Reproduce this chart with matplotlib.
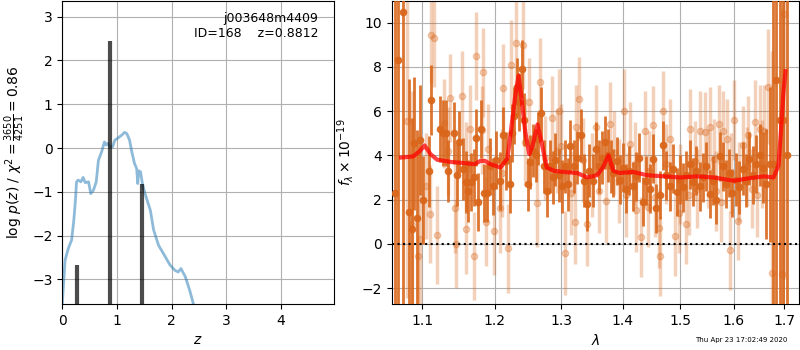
import matplotlib
matplotlib.use('Agg')
import matplotlib.pyplot as plt
from matplotlib.ticker import FormatStrFormatter, NullLocator

# p(z) curve
z_grid = [0.0, 0.05, 0.11, 0.17, 0.21, 0.24, 0.26, 0.29, 0.34, 0.38, 0.42, 0.48,
          0.52, 0.57, 0.62, 0.66, 0.72, 0.77, 0.80, 0.83, 0.87, 0.92, 0.96, 1.03,
          1.09, 1.14, 1.18, 1.23, 1.27, 1.32, 1.36, 1.38, 1.40, 1.43, 1.47, 1.54,
          1.61, 1.67, 1.76, 1.85, 1.97, 2.06, 2.12, 2.17, 2.25, 2.33, 2.40, 2.50, 2.60]
log_pz = [-3.55, -2.56, -2.29, -2.10, -1.65, -1.19, -0.77, -0.73, -0.77, -0.67, -0.79, -0.77,
          -1.04, -0.96, -0.77, -0.28, -0.08, 0.14, 0.07, 0.11, 0.03, 0.03, 0.18, 0.24,
          0.30, 0.36, 0.33, 0.18, -0.08, -0.35, -0.47, -0.81, -0.52, -0.54, -0.85, -1.15,
          -1.42, -1.87, -2.22, -2.41, -2.67, -2.79, -2.83, -2.75, -2.94, -3.25, -3.57, -4.2, -5.0]

# peaks
z_peaks = [0.275, 0.867, 1.455]
peak_height = [-2.67, 2.44, -0.82]

# spectrum, first set (dark)
wave_a = [1.0644, 1.0680, 1.0747, 1.0822, 1.0867, 1.0893, 1.0933, 1.0969, 1.1014, 1.1083,
          1.1120, 1.1236, 1.1278, 1.1315, 1.1347, 1.1430, 1.1468, 1.1500, 1.1546, 1.1593,
          1.1616, 1.1662, 1.1699, 1.1731, 1.1769, 1.1801, 1.1847, 1.1894, 1.1931, 1.1977,
          1.2020, 1.2075, 1.2125, 1.2170, 1.2220, 1.2260, 1.2285, 1.2320, 1.2360, 1.2395,
          1.2435, 1.2485, 1.2525, 1.2570, 1.2610, 1.2645, 1.2685, 1.2735, 1.2775, 1.2820,
          1.2870, 1.2910, 1.2960, 1.3010, 1.3053, 1.3102, 1.3144, 1.3198, 1.3251, 1.3305,
          1.3358, 1.3401, 1.3449, 1.3503, 1.3556, 1.3599, 1.3652, 1.3695, 1.3749, 1.3797,
          1.3840, 1.3893, 1.3947, 1.4000, 1.4059, 1.4106, 1.4165, 1.4224, 1.4282, 1.4341,
          1.4400, 1.4459, 1.4518, 1.4576, 1.4635, 1.4688, 1.4753, 1.4812, 1.4871, 1.4941,
          1.4988, 1.5049, 1.5110, 1.5172, 1.5233, 1.5294, 1.5356, 1.5417, 1.5479, 1.5540,
          1.5601, 1.5663, 1.5724, 1.5785, 1.5847, 1.5908, 1.5969, 1.6033, 1.6100, 1.6167,
          1.6233, 1.6300, 1.6367, 1.6433, 1.6500, 1.6567, 1.6633, 1.6700, 1.6767, 1.6833,
          1.6900, 1.6980, 1.7060]
flux_a = [2.3, 8.3, 10.5, 1.45, 0.68, 4.55, 1.15, 4.7, 1.97, 3.27,
          6.5, 5.2, 5.0, 5.0, 3.3, 5.0, 3.1, 4.6, 3.4, 2.8,
          2.4, 2.8, 3.0, 4.8, 1.9, 5.2, 2.3, 2.3, 3.5, 2.6,
          3.8, 2.85, 4.9, 3.75, 2.7, 5.0, 5.8, 7.1, 6.4, 7.9,
          5.6, 2.7, 3.7, 4.2, 4.0, 4.75, 5.9, 3.5, 2.4, 3.5,
          3.0, 3.8, 3.1, 2.6, 3.5, 2.7, 4.4, 3.5, 3.9, 4.9,
          2.85, 1.8, 3.3, 2.85, 4.3, 3.5, 3.9, 4.6, 4.0, 3.5,
          3.2, 3.75, 2.9, 3.45, 2.5, 3.3, 2.6, 3.05, 3.9, 1.9,
          2.85, 2.5, 3.85, 1.6, 2.2, 4.45, 3.1, 2.6, 3.4, 2.35,
          2.9, 2.55, 3.1, 3.6, 2.8, 3.3, 2.6, 3.0, 3.5, 2.25,
          2.85, 2.0, 3.95, 3.5, 2.7, 3.2, 2.3, 2.9, 2.55, 3.4,
          2.85, 3.85, 3.1, 3.6, 4.0, 3.45, 2.7, 3.6, 3.6, 7.4,
          5.6, 5.6, 4.0]
err_a = [15, 15, 15, 6.0, 5.0, 3.0, 4.0, 2.5, 2.0, 1.6,
         1.6, 1.5, 1.5, 1.5, 1.4, 1.4, 1.4, 1.4, 1.4, 1.4,
         1.4, 1.3, 1.3, 1.3, 1.3, 1.3, 1.3, 1.3, 1.3, 1.3,
         1.3, 1.3, 1.3, 1.3, 1.3, 1.3, 1.3, 1.3, 1.3, 1.3,
         1.2, 1.2, 1.2, 1.2, 1.2, 1.2, 1.2, 1.2, 1.2, 1.2,
         1.2, 1.2, 1.2, 1.2, 1.2, 1.2, 1.2, 1.2, 1.2, 1.2,
         1.2, 1.2, 1.2, 1.2, 1.2, 1.2, 1.2, 1.2, 1.2, 1.2,
         1.1, 1.1, 1.1, 1.1, 1.1, 1.1, 1.1, 1.1, 1.1, 1.1,
         1.1, 1.1, 1.1, 1.1, 1.1, 1.1, 1.1, 1.1, 1.1, 1.1,
         1.1, 1.1, 1.1, 1.1, 1.1, 1.1, 1.1, 1.1, 1.1, 1.1,
         1.1, 1.1, 1.1, 1.1, 1.1, 1.1, 1.1, 1.2, 1.2, 1.2,
         1.2, 1.2, 1.3, 1.3, 1.4, 1.6, 2.5, 3.5, 15, 15,
         15, 15, 15]

# spectrum, second set (light)
wave_b = [1.0805, 1.0862, 1.0938, 1.0969, 1.1050, 1.1097, 1.1120, 1.1162, 1.1190, 1.1292,
          1.1350, 1.1375, 1.1440, 1.1454, 1.1532, 1.1593, 1.1600, 1.1653, 1.1708, 1.1731,
          1.1824, 1.1838, 1.1870, 1.1900, 1.1995, 1.2075, 1.2100, 1.2125, 1.2195, 1.2235,
          1.2310, 1.2410, 1.2450, 1.2510, 1.2625, 1.2665, 1.2750, 1.2860, 1.2935, 1.2960,
          1.3000, 1.3064, 1.3150, 1.3209, 1.3225, 1.3278, 1.3350, 1.3412, 1.3492, 1.3561,
          1.3600, 1.3722, 1.3786, 1.3850, 1.3936, 1.4018, 1.4050, 1.4118, 1.4200, 1.4224,
          1.4306, 1.4382, 1.4424, 1.4450, 1.4518, 1.4550, 1.4618, 1.4647, 1.4694, 1.4750,
          1.4824, 1.4912, 1.4971, 1.5000, 1.5110, 1.5150, 1.5184, 1.5276, 1.5300, 1.5368,
          1.5460, 1.5500, 1.5540, 1.5626, 1.5650, 1.5706, 1.5750, 1.5785, 1.5859, 1.5926,
          1.5950, 1.6000, 1.6080, 1.6100, 1.6180, 1.6250, 1.6280, 1.6350, 1.6413, 1.6450,
          1.6513, 1.6550, 1.6580, 1.6660, 1.6753, 1.6953, 1.7000]
flux_b = [5.55, 0.9, -0.55, 0.2, 2.6, 1.35, 9.45, 9.3, 0.4, 5.45,
          4.2, 6.6, 1.6, 0.0, 6.7, 0.65, 3.5, 5.2, -0.55, 8.5,
          5.15, 7.75, 1.0, 4.3, 0.6, 1.6, 3.2, 7.05, -0.2, 8.1,
          9.1, 9.0, 4.6, 6.4, 1.85, 7.3, 3.9, 5.7, 4.2, 6.0,
          4.4, -0.4, 2.3, 1.0, 5.3, 6.55, 3.8, 0.9, 3.1, 5.3,
          2.4, 1.95, 5.4, 4.1, 2.85, 6.0, 2.2, 4.5, 3.6, 1.55,
          0.3, 5.1, 1.65, 3.3, 5.35, 2.1, 0.7, -0.55, 6.0, 3.6,
          4.75, 0.35, 1.4, 2.7, 0.9, 2.2, 5.2, 3.75, 2.5, 5.1,
          5.05, 3.4, 5.3, 3.85, 2.4, 5.4, 1.9, 5.1, 4.75, -0.3,
          3.2, 5.6, 1.05, 2.8, 4.45, 3.5, 4.9, 2.5, 5.5, 2.2,
          5.2, 3.6, 5.1, 7.1, -1.3, -1.35, 10.4]
err_b = [8, 6, 5, 4, 2.4, 2.2, 2.2, 2.2, 2.2, 2.0,
         2.0, 2.0, 2.0, 2.0, 2.0, 2.0, 2.0, 2.0, 2.0, 2.0,
         2.0, 2.0, 2.0, 2.0, 2.0, 2.0, 2.0, 2.0, 2.0, 2.0,
         2.0, 2.0, 2.0, 2.0, 2.0, 2.0, 1.9, 1.9, 1.9, 1.9,
         1.9, 1.9, 1.9, 1.9, 1.9, 1.9, 1.9, 1.9, 1.9, 1.9,
         1.9, 1.9, 1.9, 1.9, 1.9, 1.9, 1.9, 1.9, 1.9, 1.9,
         1.8, 1.8, 1.8, 1.8, 1.8, 1.8, 1.8, 1.8, 1.8, 1.8,
         1.8, 1.8, 1.8, 1.8, 1.8, 1.8, 1.8, 1.8, 1.8, 1.8,
         1.8, 1.8, 1.8, 1.8, 1.8, 1.8, 1.8, 1.8, 1.8, 1.8,
         1.8, 1.8, 1.8, 1.8, 1.8, 1.8, 1.8, 1.8, 1.9, 1.9,
         2.0, 2.0, 2.1, 2.6, 10, 12, 12]

# best-fit model
model_wave = [1.0724, 1.088, 1.097, 1.103, 1.111, 1.120, 1.139, 1.157, 1.171, 1.180,
              1.186, 1.194, 1.2085, 1.2185, 1.2235, 1.2295, 1.235, 1.2395, 1.245, 1.251,
              1.256, 1.2635, 1.2695, 1.2775, 1.2885, 1.3037, 1.3251, 1.3412, 1.3572, 1.3668,
              1.3759, 1.384, 1.3947, 1.4176, 1.4412, 1.4706, 1.50, 1.5307, 1.5613, 1.60,
              1.6247, 1.658, 1.678, 1.688, 1.6927, 1.698, 1.702]
model_flux = [3.9, 3.95, 4.2, 4.45, 4.05, 3.8, 3.7, 3.65, 3.6, 3.75,
              3.75, 3.6, 3.45, 3.85, 5.05, 6.55, 7.6, 6.55, 5.05, 4.05,
              4.45, 5.4, 4.6, 3.45, 3.3, 3.25, 3.2, 3.0, 3.1, 3.45,
              4.0, 3.3, 3.2, 3.25, 3.1, 3.05, 3.0, 3.05, 3.0, 2.85,
              2.95, 3.05, 3.0, 3.55, 5.05, 6.85, 7.8]

wave_ticks = [1.1, 1.2, 1.3, 1.4, 1.5, 1.6, 1.7]

fig = plt.figure(figsize=(8, 3.5), dpi=100)

# ---- p(z) panel
ax = fig.add_axes([0.0779, 0.1314, 0.339, 0.866])
ax.plot(z_grid, log_pz, color='C0', alpha=0.5, lw=2)
ax.vlines(z_peaks, -10, peak_height, color='k', alpha=0.7, lw=3)
ax.set_xlim(0, 4.96)
ax.set_ylim(-3.56, 3.36)
ax.set_xticks([0, 1, 2, 3, 4])
ax.grid()
ax.set_xlabel(r'$z$')
ax.set_ylabel(r'$\log\,p(z)$ / $\chi^2=\frac{3650}{4251}=0.86$')
ax.text(0.945, 0.965, 'j003648m4409\nID=168    z=0.8812', transform=ax.transAxes,
        ha='right', va='top', fontsize=9)

# ---- spectrum panel
ax2 = fig.add_axes([0.4896, 0.1314, 0.5095, 0.866])
ax2.errorbar(wave_b, flux_b, yerr=err_b, fmt='o', color='#d9661a', alpha=0.3,
             markersize=4.5, elinewidth=2.5, capsize=0, zorder=2)
ax2.errorbar(wave_a, flux_a, yerr=err_a, fmt='o', color='#d9661a', alpha=0.9,
             markersize=4.5, elinewidth=2, capsize=0, zorder=3)
ax2.plot(model_wave, model_flux, color='r', alpha=0.75, lw=3, zorder=4)
ax2.axhline(0, color='k', linestyle=':', lw=1.5, zorder=5)
ax2.set_xscale('log')
ax2.set_xlim(1.0603, 1.7306)
ax2.set_ylim(-2.72, 10.98)
ax2.set_xticks(wave_ticks)
ax2.xaxis.set_major_formatter(FormatStrFormatter('%.1f'))
ax2.xaxis.set_minor_locator(NullLocator())
ax2.grid()
ax2.set_xlabel(r'$\lambda$')
ax2.set_ylabel(r'$f_\lambda\times10^{-19}$')

fig.text(0.984, 0.028, 'Thu Apr 23 17:02:49 2020', ha='right', va='center', fontsize=5)

fig.savefig('out.png', dpi=100)
